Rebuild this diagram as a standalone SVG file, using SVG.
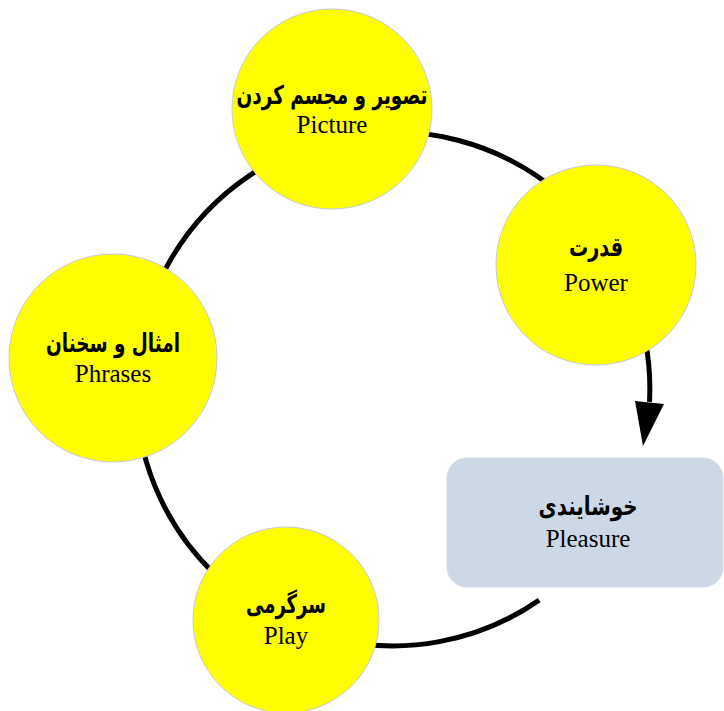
<svg xmlns="http://www.w3.org/2000/svg" width="724" height="711" viewBox="0 0 724 711">
<style>
.node{fill:#ffff00;stroke:#c8c8d8;stroke-width:1}
.box{fill:#cdd8e6;stroke:#d4dbe8;stroke-width:1}
.fa{font-family:"DejaVu Sans",sans-serif;font-weight:bold;font-size:26px;fill:#000;text-anchor:middle}
.en{font-family:"Liberation Serif",serif;font-size:25px;fill:#000;text-anchor:middle}
.conn{fill:none;stroke:#000;stroke-width:5}
</style>
<rect width="724" height="711" fill="#fff"/>
<g id="connectors">
<path class="conn" d="M539.2,600.1 A257,257 0 1 1 649.5,401.9"/>
<polygon points="635,401 664,404 643,446" fill="#000"/>
</g>
<g id="node-picture">
<circle class="node" cx="332" cy="109" r="100"/>
<text class="fa" x="332" y="104" textLength="191" lengthAdjust="spacingAndGlyphs">تصویر و مجسم کردن</text>
<text class="en" x="332" y="133">Picture</text>
</g>
<g id="node-power">
<circle class="node" cx="596" cy="265" r="100"/>
<text class="fa" x="596" y="256" textLength="54" lengthAdjust="spacingAndGlyphs">قدرت</text>
<text class="en" x="596" y="291">Power</text>
</g>
<g id="node-phrases">
<circle class="node" cx="113" cy="358" r="104"/>
<text class="fa" x="113" y="352" textLength="134" lengthAdjust="spacingAndGlyphs">امثال و سخنان</text>
<text class="en" x="113" y="382">Phrases</text>
</g>
<g id="node-play">
<circle class="node" cx="286" cy="620" r="93"/>
<text class="fa" x="286" y="613" textLength="80" lengthAdjust="spacingAndGlyphs">سرگرمی</text>
<text class="en" x="286" y="644">Play</text>
</g>
<g id="node-pleasure">
<rect class="box" x="447" y="458" width="276" height="129" rx="20" ry="20"/>
<text class="fa" x="588" y="515" textLength="99" lengthAdjust="spacingAndGlyphs">خوشایندی</text>
<text class="en" x="588" y="547">Pleasure</text>
</g>
</svg>
